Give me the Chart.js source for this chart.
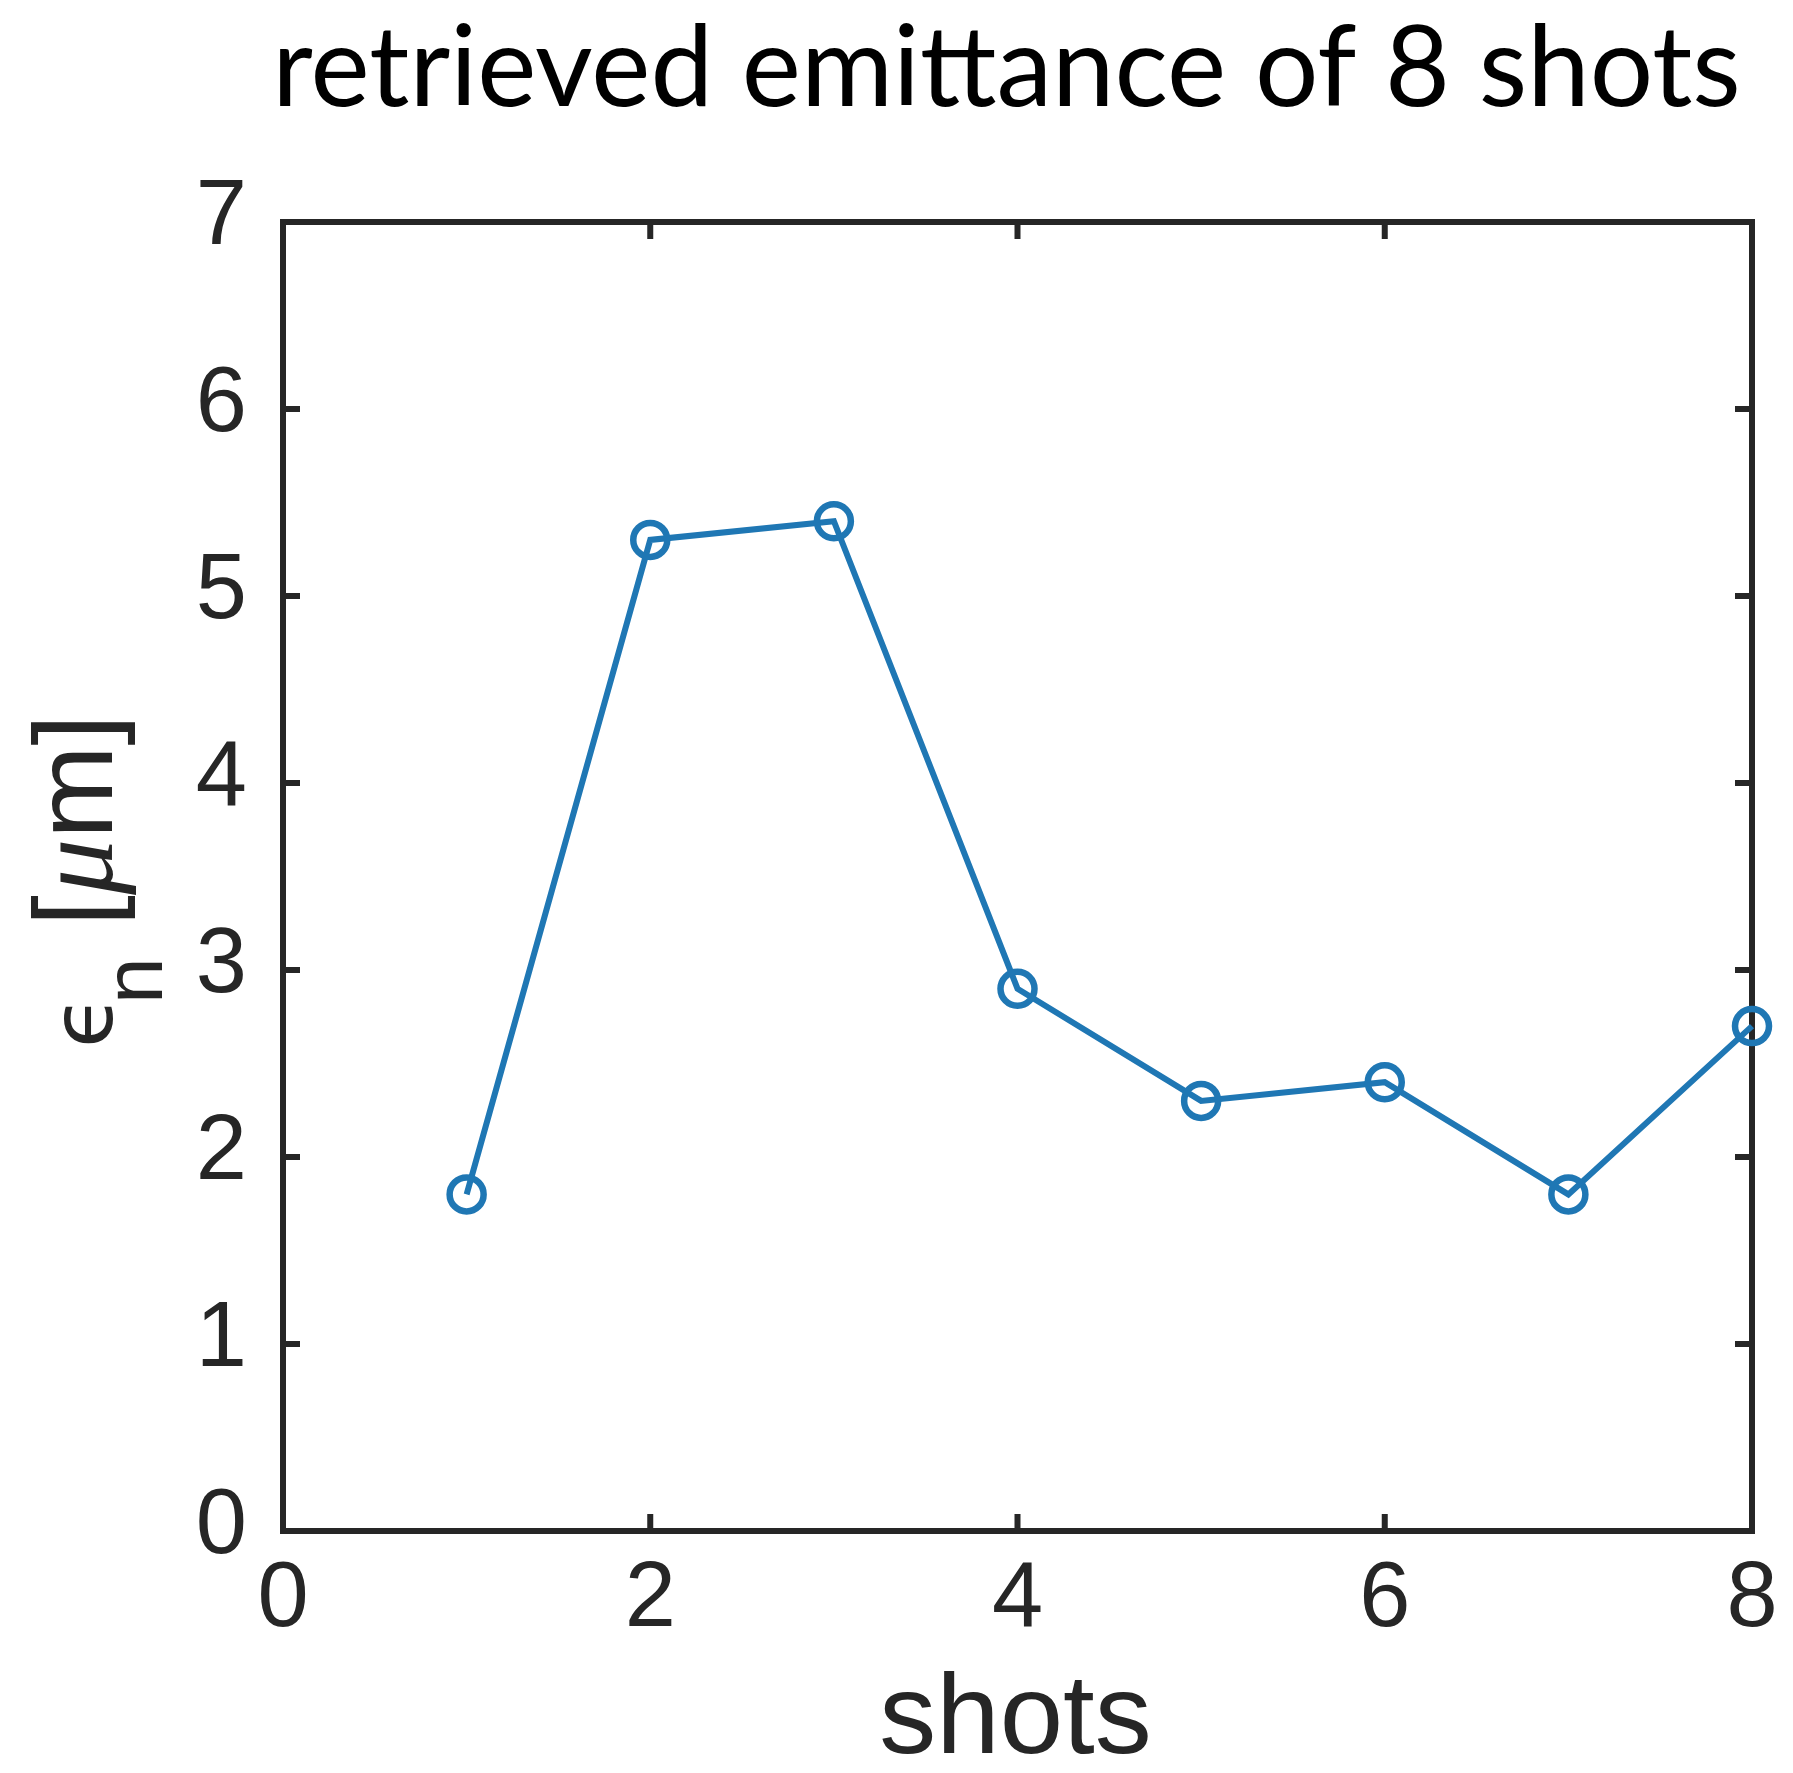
<!DOCTYPE html>
<html>
<head>
<meta charset="utf-8">
<title>retrieved emittance of 8 shots</title>
<script src="https://cdn.jsdelivr.net/npm/chart.js@4.4.1/dist/chart.umd.min.js"></script>
<style>
  html, body { margin: 0; padding: 0; background: #fff; }
  #wrap { width: 1793px; height: 1773px; }
</style>
</head>
<body>
<div id="wrap"><canvas id="emit" width="1793" height="1773"></canvas></div>
<script>
// shot number and normalized emittance (µm)
const SHOTS = [1, 2, 3, 4, 5, 6, 7, 8];
const EMITTANCE = [1.8, 5.3, 5.4, 2.9, 2.3, 2.4, 1.8, 2.7];
const X_TICKS = [0, 2, 4, 6, 8];
const Y_TICKS = [0, 1, 2, 3, 4, 5, 6, 7];

const TITLE = 'retrieved emittance of 8 shots';
const X_LABEL = 'shots';

const AXIS_COLOR = '#262626';
const LINE_COLOR = 'rgb(31,119,180)';
const SANS = "'Liberation Sans', Arial, Helvetica, sans-serif";

// box + inward ticks on all four sides, drawn under the data like matlab
const boxAxes = {
  id: 'boxAxes',
  beforeDatasetsDraw(chart){
    const {ctx, chartArea: a, scales} = chart;
    const len = 17;
    ctx.save();
    ctx.strokeStyle = AXIS_COLOR;
    ctx.lineWidth = 6;
    ctx.lineCap = 'butt';
    ctx.beginPath();
    X_TICKS.forEach(v => {
      const x = scales.x.getPixelForValue(v);
      ctx.moveTo(x, a.bottom); ctx.lineTo(x, a.bottom - len);
      ctx.moveTo(x, a.top); ctx.lineTo(x, a.top + len);
    });
    Y_TICKS.forEach(v => {
      const y = scales.y.getPixelForValue(v);
      ctx.moveTo(a.left, y); ctx.lineTo(a.left + len, y);
      ctx.moveTo(a.right, y); ctx.lineTo(a.right - len, y);
    });
    ctx.stroke();
    ctx.lineJoin = 'miter';
    ctx.strokeRect(a.left, a.top, a.right - a.left, a.bottom - a.top);
    ctx.restore();
  }
};

// title, x label and the rotated y label (epsilon, subscript n, italic mu)
const labels = {
  id: 'labels',
  afterDraw(chart){
    const {ctx, chartArea: a} = chart;
    const cx = (a.left + a.right) / 2;
    const cy = (a.top + a.bottom) / 2;
    ctx.save();
    ctx.fillStyle = '#000';
    ctx.font = "112px Lato, 'Open Sans', sans-serif";
    ctx.textAlign = 'center';
    ctx.textBaseline = 'alphabetic';
    ctx.fillText(TITLE, cx - 11, 106);

    ctx.fillStyle = AXIS_COLOR;
    ctx.font = '114px ' + SANS;
    ctx.fillText(X_LABEL, cx - 2, 1753);

    // rotated: u runs up the page from cy, v=0 is the baseline at x=112
    ctx.translate(112, cy);
    ctx.rotate(-Math.PI / 2);
    ctx.textAlign = 'left';

    // lunate epsilon
    ctx.font = "86px 'DejaVu Sans', sans-serif";
    ctx.fillText('\u03f5', cy - 1043 - 5, 0);

    // subscript n, then the unit
    ctx.font = '84px ' + SANS;
    let u = cy - 998 - 6;
    ctx.fillText('n', u, 50);
    u += ctx.measureText('n').width;
    const parts = [
      [' [', '112px ' + SANS],
      ['\u03bc', "italic 112px 'Liberation Serif', 'DejaVu Serif', serif"],
      ['m]', '112px ' + SANS]
    ];
    parts.forEach(p => {
      ctx.font = p[1];
      ctx.fillText(p[0], u, 0);
      u += ctx.measureText(p[0]).width;
    });
    ctx.restore();
  }
};

const ctx = document.getElementById('emit').getContext('2d');
new Chart(ctx, {
  type: 'line',
  data: {
    datasets: [{
      data: SHOTS.map((s, i) => ({x: s, y: EMITTANCE[i]})),
      borderColor: LINE_COLOR,
      borderWidth: 6,
      pointStyle: 'circle',
      pointRadius: 17,
      pointBorderWidth: 6.5,
      pointBorderColor: LINE_COLOR,
      pointBackgroundColor: 'rgba(0,0,0,0)',
      pointHoverRadius: 17,
      tension: 0,
      fill: false,
      clip: false
    }]
  },
  options: {
    responsive: false,
    devicePixelRatio: 1,
    animation: false,
    events: [],
    layout: { padding: { top: 222, right: 41, bottom: 0, left: 0 } },
    plugins: { legend: { display: false }, title: { display: false }, tooltip: { enabled: false } },
    scales: {
      x: {
        type: 'linear', min: 0, max: 8,
        afterFit: s => { s.height = 242; },
        afterBuildTicks: s => { s.ticks = X_TICKS.map(v => ({value: v})); },
        grid: { display: false, drawTicks: false },
        border: { display: false },
        ticks: { color: AXIS_COLOR, padding: 14, maxRotation: 0, font: { family: SANS, size: 92 } }
      },
      y: {
        type: 'linear', min: 0, max: 7,
        afterFit: s => { s.width = 283; },
        afterBuildTicks: s => { s.ticks = Y_TICKS.map(v => ({value: v})); },
        grid: { display: false, drawTicks: false },
        border: { display: false },
        ticks: { color: AXIS_COLOR, padding: 36, labelOffset: -3, font: { family: SANS, size: 92 } }
      }
    }
  },
  plugins: [boxAxes, labels]
});
</script>
</body>
</html>
